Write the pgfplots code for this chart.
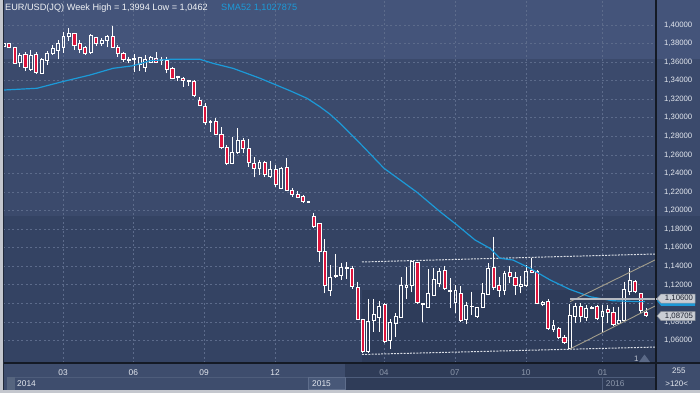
\documentclass[border=0pt]{standalone}
\usepackage{fontspec}
\setmainfont{Liberation Sans}
\usepackage{pgfplots}
\pgfplotsset{compat=1.18}
\usepackage{pgfplotstable}
\definecolor{bandA}{HTML}{44547A}
\definecolor{bandB}{HTML}{3B4A6C}
\definecolor{bandC}{HTML}{344363}
\definecolor{bandD}{HTML}{2E3C5A}
\definecolor{panelL}{HTML}{3E4D6D}
\definecolor{panelR}{HTML}{2F3C58}
\definecolor{gridc}{HTML}{5C6B8B}
\definecolor{smac}{HTML}{1C9AD8}
\definecolor{candred}{HTML}{DC143C}
\definecolor{framec}{HTML}{C4C7CE}
\definecolor{sepc}{HTML}{141A25}
\definecolor{tanc}{HTML}{A39E8C}
\definecolor{lvlc}{HTML}{B4B8C0}
\definecolor{boxc}{HTML}{C9CDD4}
\definecolor{boxd}{HTML}{8A909A}
\definecolor{dimtext}{HTML}{8C97AB}
\definecolor{labtext}{HTML}{E4E8EF}
\definecolor{dashc}{HTML}{D8DCE4}
\definecolor{pline}{HTML}{4E5D7B}
\definecolor{pbox}{HTML}{56657F}
\definecolor{yboxf}{HTML}{485878}
\definecolor{yboxd}{HTML}{5E6D8B}
\definecolor{leftline}{HTML}{202838}
\definecolor{titlec}{HTML}{F0F2F5}
\definecolor{boxtext}{HTML}{1C2230}
\definecolor{tric}{HTML}{5A6987}
\definecolor{onec}{HTML}{C0C6D2}
\pgfdeclareplotmark{void}{}
\pgfplotstableread{
i o h l c
1 1.3770 1.3810 1.3760 1.3803
2 1.3803 1.3810 1.3749 1.3759
3 1.3756 1.3766 1.3580 1.3587
4 1.3594 1.3695 1.3550 1.3677
5 1.3687 1.3706 1.3504 1.3544
6 1.3526 1.3730 1.3507 1.3673
7 1.3684 1.3706 1.3472 1.3490
8 1.3479 1.3640 1.3472 1.3633
9 1.3615 1.3720 1.3569 1.3695
10 1.3695 1.3784 1.3677 1.3752
11 1.3723 1.3838 1.3630 1.3803
12 1.3760 1.3928 1.3701 1.3881
13 1.3874 1.3964 1.3831 1.3911
14 1.3911 1.3917 1.3731 1.3784
15 1.3803 1.3838 1.3695 1.3741
16 1.3756 1.3774 1.3677 1.3695
17 1.3701 1.3900 1.3687 1.3885
18 1.3863 1.3874 1.3774 1.3803
19 1.3803 1.3857 1.3774 1.3831
20 1.3838 1.3892 1.3760 1.3874
21 1.3881 1.3994 1.3749 1.3760
22 1.3760 1.3784 1.3658 1.3695
23 1.3695 1.3712 1.3604 1.3630
24 1.3630 1.3658 1.3587 1.3623
25 1.3630 1.3684 1.3497 1.3641
26 1.3576 1.3658 1.3507 1.3652
27 1.3545 1.3677 1.3497 1.3633
28 1.3598 1.3666 1.3587 1.3652
29 1.3641 1.3706 1.3587 1.3598
30 1.3623 1.3658 1.3569 1.3630
31 1.3623 1.3652 1.3479 1.3522
32 1.3533 1.3550 1.3414 1.3425
33 1.3432 1.3454 1.3396 1.3443
34 1.3425 1.3436 1.3335 1.3400
35 1.3404 1.3410 1.3340 1.3400
36 1.3396 1.3407 1.3221 1.3238
37 1.3192 1.3221 1.3127 1.3138
38 1.3127 1.3156 1.2922 1.2947
39 1.2955 1.2976 1.2850 1.2962
40 1.2957 1.2994 1.2814 1.2825
41 1.2822 1.2899 1.2659 1.2678
42 1.2678 1.2707 1.2491 1.2509
43 1.2509 1.2796 1.2498 1.2628
44 1.2628 1.2887 1.2610 1.2761
45 1.2761 1.2779 1.2617 1.2671
46 1.2671 1.2771 1.2473 1.2516
47 1.2509 1.2574 1.2358 1.2455
48 1.2455 1.2545 1.2383 1.2520
49 1.2520 1.2537 1.2365 1.2394
50 1.2365 1.2537 1.2358 1.2445
51 1.2445 1.2491 1.2257 1.2283
52 1.2240 1.2473 1.2229 1.2455
53 1.2466 1.2563 1.2211 1.2222
54 1.2222 1.2240 1.2149 1.2179
55 1.2179 1.2214 1.2132 1.2143
56 1.2149 1.2168 1.2085 1.2103
57 1.2089 1.2100 1.2085 1.2097
58 1.1942 1.1977 1.1820 1.1826
59 1.1863 1.1866 1.1449 1.1557
60 1.1557 1.1690 1.1108 1.1198
61 1.1136 1.1413 1.1079 1.1281
62 1.1287 1.1532 1.1281 1.1306
63 1.1298 1.1438 1.1252 1.1389
64 1.1378 1.1442 1.1266 1.1389
65 1.1378 1.1406 1.1155 1.1179
66 1.1173 1.1233 1.0828 1.0831
67 1.0831 1.0835 1.0462 1.0479
68 1.0479 1.1047 1.0468 1.0810
69 1.0813 1.1047 1.0694 1.0882
70 1.0850 1.1029 1.0694 1.0971
71 1.0993 1.1007 1.0576 1.0587
72 1.0598 1.0828 1.0505 1.0796
73 1.0785 1.0893 1.0641 1.0864
74 1.0850 1.1281 1.0846 1.1198
75 1.1173 1.1395 1.1047 1.1198
76 1.1190 1.1460 1.1119 1.1449
77 1.1438 1.1449 1.0993 1.1007
78 1.0986 1.1000 1.0802 1.0993
79 1.0957 1.1367 1.0947 1.1108
80 1.1090 1.1378 1.1079 1.1263
81 1.1216 1.1378 1.1173 1.1349
82 1.1352 1.1403 1.1144 1.1162
83 1.1136 1.1270 1.0947 1.1141
84 1.1007 1.1198 1.0893 1.1144
85 1.1108 1.1187 1.0810 1.0813
86 1.0828 1.1018 1.0777 1.0982
87 1.0964 1.1126 1.0874 1.0971
88 1.0856 1.0964 1.0845 1.0957
89 1.0957 1.1216 1.0947 1.1108
90 1.1098 1.1432 1.1090 1.1378
91 1.1389 1.1718 1.1144 1.1173
92 1.1198 1.1281 1.1072 1.1144
93 1.1136 1.1352 1.1090 1.1324
94 1.1335 1.1406 1.1216 1.1295
95 1.1277 1.1341 1.1090 1.1198
96 1.1179 1.1295 1.1108 1.1205
97 1.1198 1.1413 1.1173 1.1349
98 1.1360 1.1486 1.1324 1.1335
99 1.1349 1.1360 1.0990 1.1001
100 1.0993 1.1029 1.0971 1.1011
101 1.1026 1.1044 1.0713 1.0731
102 1.0724 1.0821 1.0694 1.0767
103 1.0731 1.0748 1.0613 1.0634
104 1.0634 1.0659 1.0562 1.0576
105 1.0516 1.0993 1.0505 1.0874
106 1.0856 1.1007 1.0791 1.0971
107 1.0964 1.1001 1.0802 1.0864
108 1.0850 1.0983 1.0813 1.0947
109 1.0946 1.0971 1.0936 1.0957
110 1.0964 1.0983 1.0821 1.0839
111 1.0856 1.0983 1.0694 1.0918
112 1.0936 1.0983 1.0785 1.0899
113 1.0904 1.0958 1.0756 1.0777
114 1.0785 1.0964 1.0777 1.0821
115 1.0813 1.1233 1.0802 1.1151
116 1.1126 1.1378 1.1090 1.1252
117 1.1241 1.1252 1.1108 1.1126
118 1.1108 1.1115 1.0893 1.0928
119 1.0904 1.0947 1.0856 1.08705
}\candles
\begin{document}
\begin{tikzpicture}[x=1bp,y=1bp]
\useasboundingbox (0,0) rectangle (700,393);
\fill[framec] (0,0) rectangle (700,393);
\fill[bandA] (3,334) rectangle (700,393);
\fill[bandB] (3,177) rectangle (700,334);
\fill[bandC] (3,30) rectangle (700,177);
\fill[bandD] (362,30) rectangle (656,103);
\fill[panelL] (3,3) rectangle (700,30);
\fill[panelR] (345,3) rectangle (656,30);
\draw[pline, line width=0.7bp] (15,16) -- (656,16);
\fill[pbox] (7,3) rectangle (15,16);
\filldraw[fill=yboxf, draw=yboxd, line width=0.6bp] (308,3.3) rectangle (345,16);
\draw[pline, line width=0.7bp] (602,3) -- (602,16);
\begin{axis}[
  at={(3.3bp,30bp)}, anchor=south west,
  scale only axis, width=652.7bp, height=363bp,
  xmin=0.9522, xmax=120.846,
  ymin=1.035702, ymax=1.42695,
  axis line style={draw=none},
  tick style={draw=none},
  /pgf/number format/assume math mode=true,
  ytick={1.06,1.08,1.10,1.12,1.14,1.16,1.18,1.20,1.22,1.24,1.26,1.28,1.30,1.32,1.34,1.36,1.38,1.40},
  yticklabel pos=right,
  yticklabel style={anchor=west, inner sep=0pt, xshift=8bp, font=\fontsize{7.8}{9}\selectfont, text=labtext},
  yticklabel={\pgfmathprintnumber[fixed,fixed zerofill,precision=5,use comma]{\tick}},
  xtick={11.92,24.83,37.82,50.86,70.88,83.92,96.96,111.05},
  xticklabels={03,06,09,12,\textcolor{dimtext}{04},\textcolor{dimtext}{07},\textcolor{dimtext}{10},\textcolor{dimtext}{01}},
  xticklabel style={anchor=base, inner sep=0pt, yshift=-12bp, font=\fontsize{8.4}{10}\selectfont, text=labtext},
  grid=major,
  major grid style={gridc, dash pattern=on 2bp off 2.5bp, line width=0.6bp},
  clip mode=individual,
]
\addplot[dashc, line width=1bp, dash pattern=on 2bp off 1.2bp] coordinates {(66.84,1.1446) (120.85,1.1532)};
\addplot[dashc, line width=1bp, dash pattern=on 2bp off 1.2bp] coordinates {(66.84,1.0449) (120.85,1.0529)};
\addplot[scatter, only marks, mark=void, clip marker paths=true,
  visualization depends on={max(0.45,463.9*abs(\thisrow{c}-\thisrow{o})) \as \cT},
  visualization depends on={927.8*(\thisrow{h}-0.5*(\thisrow{o}+\thisrow{c})) \as \cHi},
  visualization depends on={927.8*(\thisrow{l}-0.5*(\thisrow{o}+\thisrow{c})) \as \cLo},
  visualization depends on={1000*(\thisrow{o}-\thisrow{c}) \as \cDn},
  scatter/@pre marker code/.code={%
    \pgfmathparse{\cDn>0 ? 1 : 0}\let\cIsDn\pgfmathresult
    \begin{scope}[x=1bp,y=1bp]
      \draw[white, line width=0.8bp] (0,\cHi) -- (0,\cT);
      \draw[white, line width=0.8bp] (0,\cLo) -- (0,-\cT);
      \ifdim\cIsDn pt>0.5pt
        \filldraw[draw=white, fill=candred, line width=0.7bp] (-1.55,-\cT) rectangle (1.55,\cT);
      \else
        \draw[white, line width=0.8bp] (-1.45,-\cT) rectangle (1.45,\cT);
      \fi
    \end{scope}%
  },
  scatter/@post marker code/.code={},
] table[x=i, y expr={(\thisrow{o}+\thisrow{c})/2}] {\candles};
\addplot[smac, line width=1.2bp] coordinates {
(0.95,1.3299) (7.14,1.3318) (11.92,1.3391) (16.88,1.3461) (21.1,1.3533) (24.78,1.3561) (27.9,1.3615) (31.57,1.3630) (37.08,1.3630) (39.47,1.3587) (43.15,1.3533) (48.1,1.3426) (53.6,1.3292) (56.74,1.3210) (59.12,1.3119) (60.97,1.3038) (62.8,1.2941) (66.47,1.2725) (70.88,1.2456) (76.95,1.2197) (81.17,1.1988) (84.29,1.1844) (87.6,1.1683) (90.35,1.1593) (92.19,1.1485) (94.58,1.1467) (97.7,1.1378) (101.4,1.1252) (105.0,1.1151) (108.7,1.1072) (112.95,1.1028) (117.9,1.1018) (118.8,1.1020)};
\addplot[tanc, line width=0.9bp] coordinates {(105.05,1.1018) (120.85,1.1473)};
\addplot[tanc, line width=0.9bp] coordinates {(105.05,1.0508) (120.85,1.0977)};
\addplot[lvlc, line width=2.2bp] coordinates {(105.05,1.1050) (120.85,1.1050)};
\end{axis}
\draw[sepc, line width=1.2bp] (656,3) -- (656,393);
\draw[sepc, line width=1.2bp] (3.3,30) -- (700,30);
\draw[leftline, line width=0.8bp] (3.0,3) -- (3.0,393);
\node[anchor=base west, inner sep=0pt, text=titlec, font=\fontsize{9.2}{11}\selectfont] at (5,382.3) {EUR/USD(JQ) Week High = 1,3994 Low = 1,0462};
\node[anchor=base west, inner sep=0pt, text=smac, font=\fontsize{9.2}{11}\selectfont] at (221,382.3) {SMA52 1,1027875};
\fill[smac] (657,92.2) -- (661,97.2) -- (695,97.2) -- (695,87.2) -- (661,87.2) -- cycle;
\fill[lvlc] (656,93) rectangle (659,95.4);
\filldraw[fill=boxc, draw=boxd, line width=0.5bp] (657,94.5) -- (661,99) -- (695,99) -- (695,90) -- (661,90) -- cycle;
\node[inner sep=0pt, text=boxtext, font=\fontsize{7.8}{9}\selectfont] at (679,94.5) {1,10600};
\filldraw[fill=boxc, draw=boxd, line width=0.5bp] (657,77) -- (661,81.5) -- (695,81.5) -- (695,72.5) -- (661,72.5) -- cycle;
\node[inner sep=0pt, text=boxtext, font=\fontsize{7.8}{9}\selectfont] at (679,77) {1,08705};
\fill[tric] (644.5,38.5) -- (639,31) -- (650,31) -- cycle;
\node[anchor=base west, inner sep=0pt, text=onec, font=\fontsize{8}{9}\selectfont] at (633.8,31.5) {1};
\node[anchor=base west, inner sep=0pt, text=labtext, font=\fontsize{8.4}{10}\selectfont] at (17,7) {2014};
\node[anchor=base west, inner sep=0pt, text=labtext, font=\fontsize{8.4}{10}\selectfont] at (312,7) {2015};
\node[anchor=base west, inner sep=0pt, text=dimtext, font=\fontsize{8.4}{10}\selectfont] at (605.7,7) {2016};
\node[anchor=base, inner sep=0pt, text=labtext, font=\fontsize{8}{10}\selectfont] at (678.8,19.7) {255};
\node[anchor=base, inner sep=0pt, text=labtext, font=\fontsize{8}{10}\selectfont] at (676.7,7) {>120<};
\end{tikzpicture}
\end{document}
